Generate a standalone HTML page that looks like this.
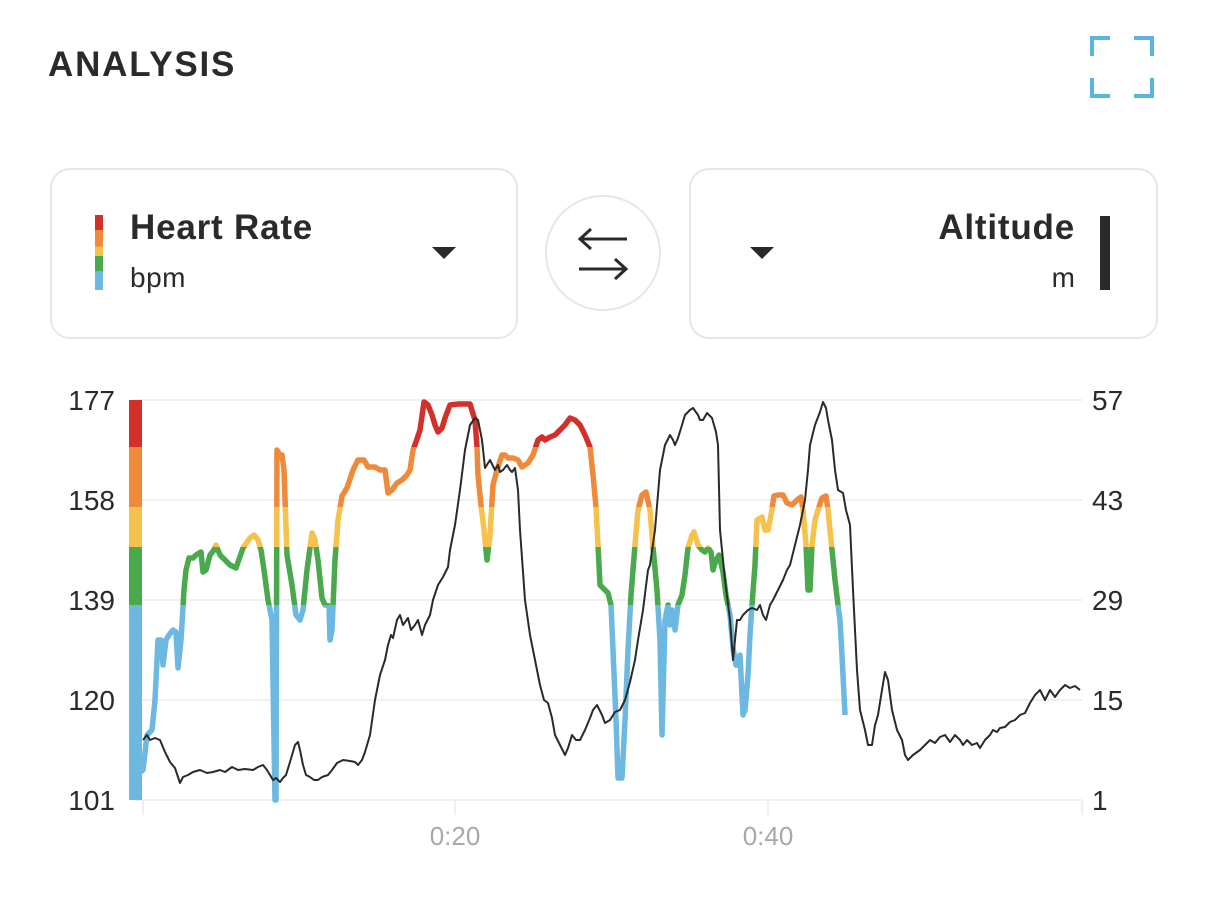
<!DOCTYPE html>
<html><head><meta charset="utf-8"><style>
body{margin:0;width:1206px;height:904px;background:#fff;font-family:"Liberation Sans",sans-serif;color:#2a2a2a;overflow:hidden;position:relative}
.t{position:absolute;white-space:nowrap}
.box{position:absolute;border:2px solid #e6e6e6;border-radius:20px;box-sizing:border-box}
</style></head><body>
<div class="t" style="left:48px;top:45px;font-size:35px;font-weight:bold;letter-spacing:1.8px">ANALYSIS</div>
<svg class="t" style="left:1090px;top:36px" width="64" height="62"><g fill="none" stroke="#5ab4e0" stroke-width="4"><path d="M2 20V2H20M44 2H62V20M62 42V60H44M20 60H2V42"/></g></svg>
<div class="box" style="left:50px;top:168px;width:468px;height:171px"></div>
<div style="position:absolute;left:95px;top:215px;width:8px;height:75px;background:linear-gradient(#d4302b 0 20%,#ef8a3b 20% 42%,#f4c24d 42% 55%,#4aa94c 55% 75%,#6cb8e0 75%)"></div>
<div class="t" style="left:130px;top:208px;font-size:35px;font-weight:bold;letter-spacing:0.8px">Heart Rate</div>
<div class="t" style="left:130px;top:262px;font-size:28px;letter-spacing:0.5px">bpm</div>
<svg class="t" style="left:432px;top:247px" width="24" height="14"><path d="M0 0H24L12 12Z" fill="#2a2a2a"/></svg>
<div style="position:absolute;left:545px;top:195px;width:116px;height:116px;border:2px solid #e6e6e6;border-radius:50%;box-sizing:border-box"></div>
<svg class="t" style="left:575px;top:225px" width="56" height="58"><g fill="none" stroke="#2a2a2a" stroke-width="3"><path d="M6 14H52M16 4L5 14L16 24M4 44H50M40 34L51 44L40 54"/></g></svg>
<div class="box" style="left:689px;top:168px;width:469px;height:171px"></div>
<svg class="t" style="left:750px;top:247px" width="24" height="14"><path d="M0 0H24L12 12Z" fill="#2a2a2a"/></svg>
<div class="t" style="right:131px;top:208px;font-size:35px;font-weight:bold;letter-spacing:0.8px">Altitude</div>
<div class="t" style="right:131px;top:262px;font-size:28px">m</div>
<div style="position:absolute;left:1100px;top:216px;width:10px;height:74px;background:#2a2a2a"></div>
<svg class="t" style="left:0;top:0" width="1206" height="904">
<defs>
<clipPath id="cr"><rect x="0" y="380" width="1206" height="67"/></clipPath>
<clipPath id="co"><rect x="0" y="447" width="1206" height="60"/></clipPath>
<clipPath id="cy"><rect x="0" y="507" width="1206" height="40"/></clipPath>
<clipPath id="cg"><rect x="0" y="547" width="1206" height="58"/></clipPath>
<clipPath id="cb"><rect x="0" y="605" width="1206" height="210"/></clipPath>
<polyline id="hr" fill="none" stroke-width="5.5" stroke-linejoin="round" points="135,800 137,775 143,770 147,735 152,730 155,700 158,640 161,640 163,665 166,640 169,635 173,630 176,632 178,668 181,640 184,590 186,570 189,558 193,558 196,555 201,552 203,572 206,570 210,555 214,550 216,545 220,555 225,560 230,565 236,568 243,548 250,538 254,535 258,540 261,550 264,570 268,600 272,620 275,800 276,800 277,450 280,455 282,455 284,470 287,555 292,585 296,615 300,620 303,610 307,570 312,533 315,540 318,560 322,598 325,605 329,606 330,640 332,630 335,560 338,520 342,496 347,488 353,470 358,460 364,460 368,467 375,467 380,470 385,470 388,493 392,490 397,483 402,480 407,475 410,470 413,450 416,442 420,430 424,402 428,405 432,415 435,425 438,432 442,428 445,418 450,405 458,404 463,404 470,404 475,420 477,447 478,475 481,505 484,530 487,560 490,535 493,485 497,470 502,455 505,455 508,458 513,458 518,460 522,467 528,463 533,455 538,440 542,437 545,440 550,437 555,435 560,430 565,425 570,418 575,420 580,425 585,435 590,447 593,475 596,507 598,545 600,585 605,590 608,593 611,605 613,650 616,720 618,778 622,778 625,720 628,650 631,595 635,545 638,510 642,495 646,492 650,510 653,547 657,590 660,640 662,735 665,620 668,605 670,625 672,610 675,630 678,605 682,595 685,575 688,548 692,535 694,532 698,545 702,550 705,552 708,548 711,552 713,570 716,560 719,555 723,572 726,595 728,605 730,615 733,648 736,665 738,665 740,655 743,715 745,710 748,675 750,635 752,605 755,565 757,520 762,517 765,530 768,530 771,515 774,496 778,495 783,495 787,503 792,505 797,500 801,497 803,510 806,545 808,590 810,590 812,545 815,520 818,510 822,498 826,496 828,510 832,550 835,580 838,605 840,620 842,655 845,715"/>
</defs>
<g stroke="#ececec" stroke-width="1.5"><path d="M135 400H1082M135 500H1082M135 600H1082M135 700H1082M135 800H1082"/><path d="M143 800V815M455 800V815M768 800V815M1082 800V815"/></g>
<rect x="129" y="400" width="13" height="47" fill="#d4302b"/>
<rect x="129" y="447" width="13" height="60" fill="#ef8a3b"/>
<rect x="129" y="507" width="13" height="40" fill="#f4c24d"/>
<rect x="129" y="547" width="13" height="58" fill="#4aa94c"/>
<rect x="129" y="605" width="13" height="195" fill="#6cb8e0"/>
<use href="#hr" stroke="#d4302b" clip-path="url(#cr)"/>
<use href="#hr" stroke="#ef8a3b" clip-path="url(#co)"/>
<use href="#hr" stroke="#f4c24d" clip-path="url(#cy)"/>
<use href="#hr" stroke="#4aa94c" clip-path="url(#cg)"/>
<use href="#hr" stroke="#6cb8e0" clip-path="url(#cb)"/>
<polyline fill="none" stroke="#2a2a2a" stroke-width="2" stroke-linejoin="round" points="143,740 147,735 150,740 155,738 160,740 165,752 170,762 175,768 180,783 183,777 188,775 193,772 200,770 207,773 213,772 220,770 225,772 232,767 238,770 245,769 253,770 258,767 263,765 267,770 270,775 273,780 276,778 280,782 283,778 286,775 290,762 295,745 298,742 300,750 303,765 306,775 310,777 314,780 318,780 322,777 328,775 332,770 337,763 343,760 350,761 355,762 358,765 362,760 365,752 370,735 375,700 380,675 385,660 388,645 391,635 393,638 397,620 400,615 403,625 408,618 411,630 415,625 418,620 422,635 425,625 430,615 433,600 438,585 443,577 448,567 450,550 455,525 460,490 465,450 470,425 475,418 478,420 482,440 485,468 490,460 495,470 498,465 500,472 503,470 507,465 510,470 512,472 515,468 518,490 520,530 525,600 530,635 535,660 540,685 544,700 548,703 552,718 555,735 560,745 565,755 568,748 572,735 576,740 580,740 585,730 590,718 593,710 597,705 602,715 605,723 610,720 615,712 620,710 625,700 630,682 635,660 638,640 643,610 648,570 650,565 655,530 660,470 665,445 670,435 673,440 675,445 678,438 682,425 685,415 690,410 693,408 698,415 700,420 703,420 707,413 712,418 716,432 718,445 720,530 725,580 730,620 733,660 737,620 740,620 743,615 748,610 752,608 757,610 760,605 763,615 766,620 770,605 773,600 778,590 783,580 787,570 790,565 795,545 800,525 805,500 808,470 810,445 815,425 820,412 823,402 826,408 828,420 832,440 835,470 838,490 843,493 846,510 850,525 853,590 857,670 860,710 865,730 868,745 872,745 875,725 878,715 882,690 885,672 888,680 892,710 897,730 902,740 905,755 908,760 913,755 920,750 925,745 930,740 935,743 940,737 945,735 950,742 955,735 960,740 963,745 967,740 972,745 977,743 980,748 985,740 990,735 993,730 997,732 1000,728 1005,727 1010,722 1015,720 1020,715 1025,713 1030,703 1035,695 1040,690 1045,700 1050,690 1055,697 1060,690 1065,685 1070,688 1075,686 1080,690"/>
<g font-size="28" fill="#2a2a2a" text-anchor="end"><text x="115" y="410">177</text><text x="115" y="510">158</text><text x="115" y="610">139</text><text x="115" y="710">120</text><text x="115" y="810">101</text></g>
<g font-size="28" fill="#2a2a2a"><text x="1092" y="410">57</text><text x="1092" y="510">43</text><text x="1092" y="610">29</text><text x="1092" y="710">15</text><text x="1092" y="810">1</text></g>
<g font-size="26" fill="#a8a8a8" text-anchor="middle"><text x="455" y="845">0:20</text><text x="768" y="845">0:40</text></g>
</svg>
</body></html>
